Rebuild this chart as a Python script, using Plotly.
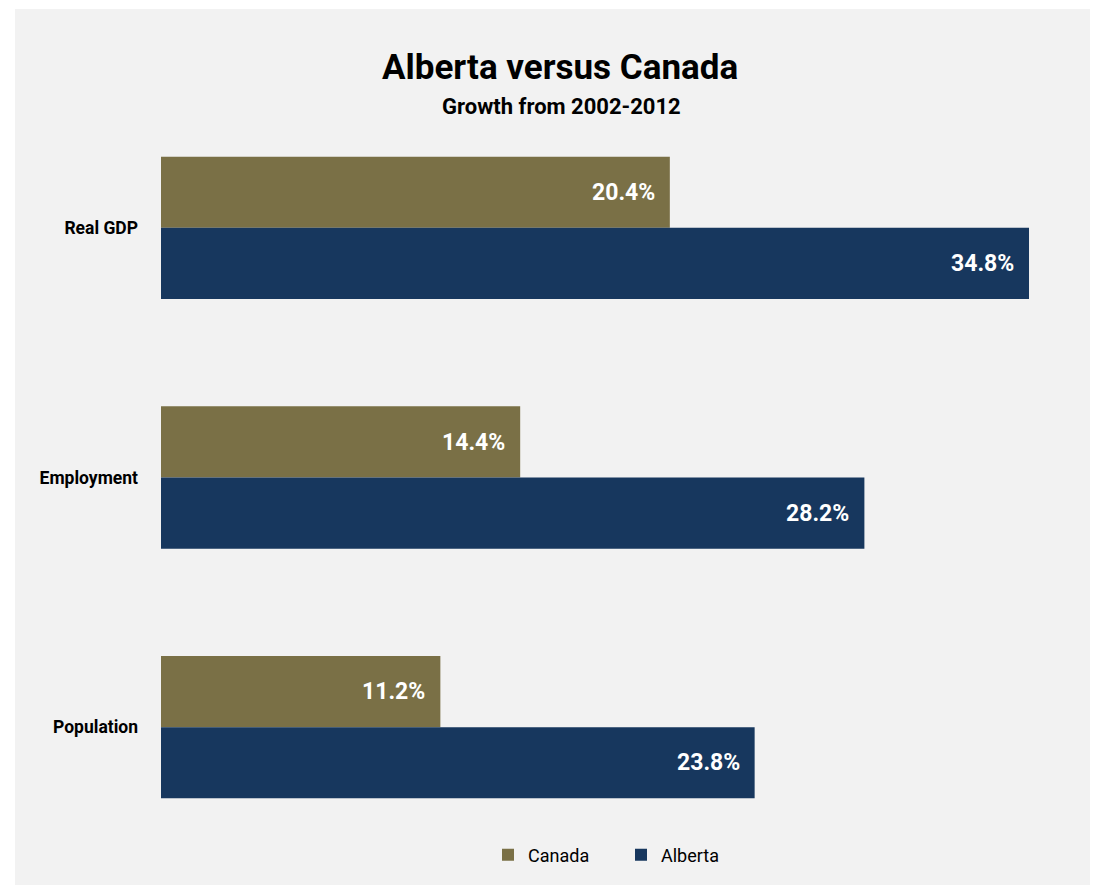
import plotly.graph_objects as go

categories = ["Real GDP", "Employment", "Population"]
canada = [20.4, 14.4, 11.2]
alberta = [34.8, 28.2, 23.8]
series_names = ["Canada", "Alberta"]

C_CANADA = "#7a7046"
C_ALBERTA = "#17375e"
FONT = "Roboto, Liberation Sans, sans-serif"

W, H = 1095, 886
L, R, T, B = 161, 61, 103, 34
pw = W - L - R
ph = H - T - B

def px_x(px):
    return (px - L) / pw

def px_y(py):
    return (H - B - py) / ph

fig = go.Figure()
fig.add_trace(go.Bar(y=categories, x=canada, name=series_names[0], orientation="h",
                     marker=dict(color=C_CANADA, line=dict(width=0)), hoverinfo="skip"))
fig.add_trace(go.Bar(y=categories, x=alberta, name=series_names[1], orientation="h",
                     marker=dict(color=C_ALBERTA, line=dict(width=0)), hoverinfo="skip"))

annotations = []
for vals, shift in ((canada, 35.5), (alberta, -35.5)):
    for cat, v in zip(categories, vals):
        annotations.append(dict(x=v, y=cat, xref="x", yref="y", text=f"{v:.1f}%",
                                showarrow=False, xanchor="right", yanchor="middle",
                                xshift=-13, yshift=shift,
                                font=dict(family=FONT, size=23, color="white", weight="bold")))

annotations.append(dict(x=px_x(560), y=px_y(67), xref="paper", yref="paper",
                        text="Alberta versus Canada", showarrow=False,
                        xanchor="center", yanchor="middle",
                        font=dict(family=FONT, size=35, color="black", weight="bold")))
annotations.append(dict(x=px_x(561), y=px_y(107), xref="paper", yref="paper",
                        text="Growth from 2002-2012", showarrow=False,
                        xanchor="center", yanchor="middle",
                        font=dict(family=FONT, size=22, color="black", weight="bold")))

fig.update_layout(
    width=W, height=H,
    margin=dict(l=L, r=R, t=T, b=B, autoexpand=False),
    paper_bgcolor="white", plot_bgcolor="rgba(0,0,0,0)",
    barmode="group", bargap=0.43, bargroupgap=0,
    showlegend=True,
    legend=dict(orientation="h", x=px_x(621), y=px_y(855), xanchor="center", yanchor="middle",
                font=dict(family=FONT, size=18, color="black"),
                bgcolor="rgba(0,0,0,0)", itemwidth=30,
                entrywidth=88, entrywidthmode="pixels"),
    xaxis=dict(range=[0, 35], showticklabels=False, showgrid=False, zeroline=False,
               showline=False, fixedrange=True),
    yaxis=dict(autorange="reversed", showgrid=False, zeroline=False, showline=False,
               ticks="", ticklabelstandoff=22,
               tickfont=dict(family=FONT, size=17.5, color="black", weight="bold")),
    annotations=annotations,
    shapes=[dict(type="rect", xref="paper", yref="paper", layer="below",
                 x0=px_x(15), x1=px_x(1090), y0=px_y(885), y1=px_y(9),
                 fillcolor="#f2f2f2", line=dict(width=0))],
)

fig.write_html("out.html")
